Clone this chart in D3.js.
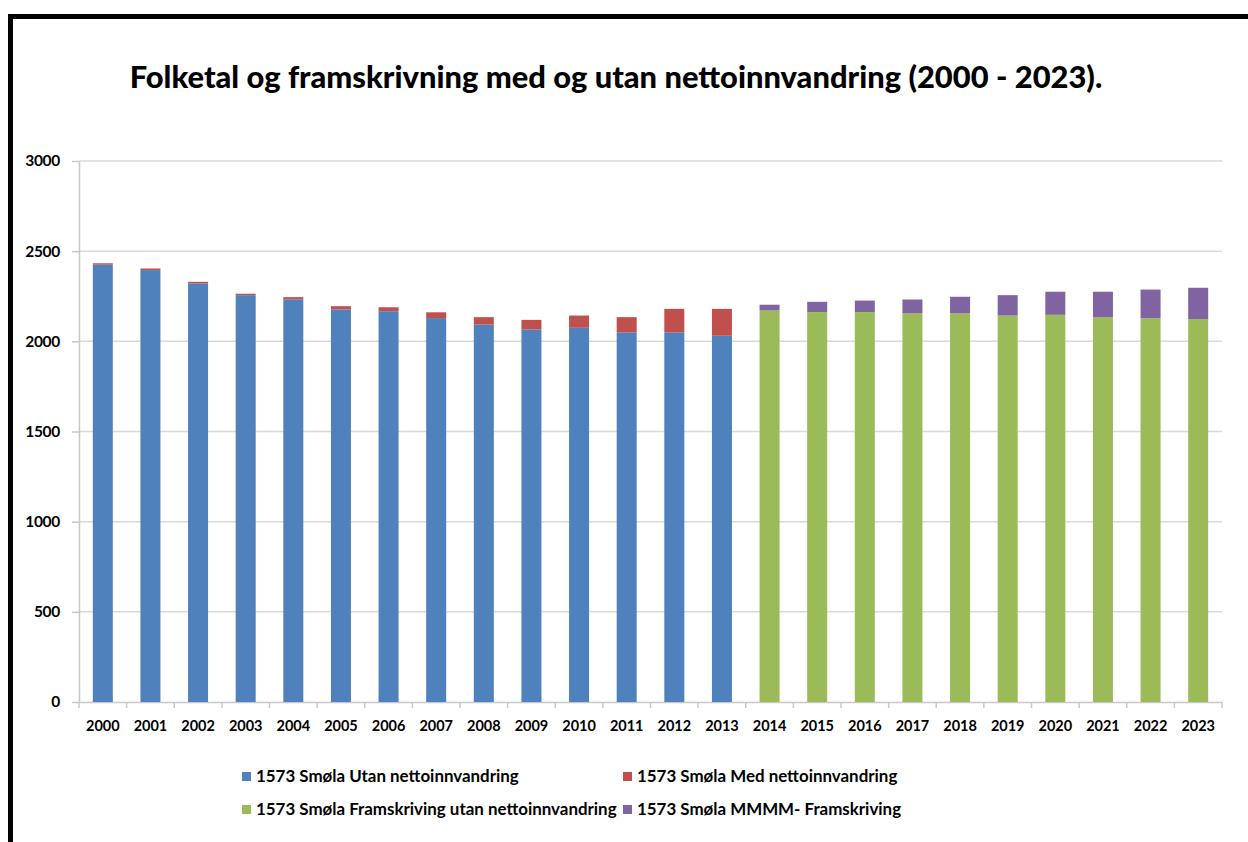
<!DOCTYPE html>
<html>
<head>
<meta charset="utf-8">
<script src="https://cdn.jsdelivr.net/npm/d3@7"></script>
<style>
  body { margin: 0; background: #fff; }
  svg { display: block; }
</style>
</head>
<body>
<div id="chart"></div>
<script>
const years = d3.range(2000, 2024).map(String)
// 2000-2013: registered population, split into "utan" and the extra from net immigration
const utan = [2425, 2395, 2321, 2256, 2233, 2177, 2167, 2129, 2093, 2066, 2075, 2050, 2050, 2031,
              0, 0, 0, 0, 0, 0, 0, 0, 0, 0]
const med = [8, 9, 9, 8, 12, 18, 22, 32, 41, 53, 68, 84, 130, 149,
             0, 0, 0, 0, 0, 0, 0, 0, 0, 0]
// 2014-2023: projections
const framUtan = [0, 0, 0, 0, 0, 0, 0, 0, 0, 0, 0, 0, 0, 0,
                  2171, 2162, 2162, 2156, 2156, 2143, 2147, 2134, 2128, 2123]
const mmmm = [0, 0, 0, 0, 0, 0, 0, 0, 0, 0, 0, 0, 0, 0,
              32, 57, 64, 76, 91, 113, 128, 141, 159, 174]
const yTicks = [0, 500, 1000, 1500, 2000, 2500, 3000]

const seriesNames = ["1573 Smøla Utan nettoinnvandring", "1573 Smøla Med nettoinnvandring",
                     "1573 Smøla Framskriving utan nettoinnvandring", "1573 Smøla MMMM- Framskriving"]
const colors = ["#4F81BD", "#C0504D", "#9BBB59", "#8064A2"]

const width = 1248, height = 842
const margin = {top: 161, right: 26, bottom: 140, left: 79}

const rows = years.map((y, i) => ({year: y, a: utan[i], b: med[i], c: framUtan[i], d: mmmm[i]}))
const stack = d3.stack().keys(["a", "b", "c", "d"])
const series = stack(rows)

const x = d3.scaleBand()
    .domain(years)
    .range([margin.left, width - margin.right])
    .paddingInner(0.58)
    .paddingOuter(0.29)
const y = d3.scaleLinear()
    .domain([0, 3000])
    .range([height - margin.bottom, margin.top])

const svg = d3.select("#chart").append("svg")
    .attr("width", width)
    .attr("height", height)
    .style("font-family", "Lato, 'Open Sans', sans-serif")

// frame (only left and top edges visible in the picture)
svg.append("rect").attr("x", 8).attr("y", 14).attr("width", 5).attr("height", height - 14).attr("fill", "#000")
svg.append("rect").attr("x", 8).attr("y", 14).attr("width", width - 8).attr("height", 5).attr("fill", "#000")

const title = svg.append("text")
    .attr("x", 616)
    .attr("y", 88)
    .attr("text-anchor", "middle")
    .style("font-weight", "900")
    .style("font-size", "26px")
    .attr("fill", "#000")
    .text("Folketal og framskrivning med og utan nettoinnvandring (2000 - 2023).")
// fit title width to the original
const tw = title.node().getComputedTextLength()
title.style("font-size", (26 * 973 / tw) + "px")

// gridlines
svg.append("g")
    .selectAll("line")
    .data(yTicks.slice(1))
    .join("line")
      .attr("x1", margin.left)
      .attr("x2", width - margin.right)
      .attr("y1", d => y(d))
      .attr("y2", d => y(d))
      .attr("stroke", "#d9d9d9")
      .attr("stroke-width", 1.5)

// y axis
const yAxis = svg.append("g")
    .attr("transform", `translate(${margin.left},0)`)
    .call(d3.axisLeft(y).tickValues(yTicks).tickFormat(d3.format("d")).tickSize(7).tickPadding(12).tickSizeOuter(0))
yAxis.select(".domain").attr("stroke", "#c8c8c8").attr("stroke-width", 1.5)
yAxis.selectAll(".tick line").attr("stroke", "#c8c8c8").attr("stroke-width", 1.5)
yAxis.selectAll("text")
    .attr("fill", "#000")
    .style("font-size", "15.5px")
    .style("font-weight", "bold")
    .style("font-family", "Lato, sans-serif")
    .style("letter-spacing", "-0.3px")

// x axis, ticks between categories
const xAxis = svg.append("g")
    .attr("transform", `translate(0,${y(0)})`)
    .call(d3.axisBottom(x).tickSize(0).tickPadding(19).tickSizeOuter(0))
xAxis.select(".domain").attr("stroke", "#c8c8c8").attr("stroke-width", 1.5)
xAxis.selectAll("text")
    .attr("fill", "#000")
    .style("font-size", "14.5px")
    .style("font-weight", "bold")
    .style("font-family", "Lato, sans-serif")
xAxis.append("g")
    .selectAll("line")
    .data(years)
    .join("line")
      .attr("x1", d => x(d) - (x.step() - x.bandwidth()) / 2)
      .attr("x2", d => x(d) - (x.step() - x.bandwidth()) / 2)
      .attr("y1", 0)
      .attr("y2", 6)
      .attr("stroke", "#c8c8c8")
      .attr("stroke-width", 1.5)
xAxis.append("line")
    .attr("x1", width - margin.right).attr("x2", width - margin.right)
    .attr("y1", 0).attr("y2", 6)
    .attr("stroke", "#c8c8c8").attr("stroke-width", 1.5)

// bars
svg.append("g")
    .selectAll("g")
    .data(series)
    .join("g")
      .attr("fill", (d, i) => colors[i])
    .selectAll("rect")
    .data(d => d.filter(p => p[1] - p[0] > 0))
    .join("rect")
      .attr("x", d => x(d.data.year))
      .attr("y", d => y(d[1]))
      .attr("width", x.bandwidth())
      .attr("height", d => y(d[0]) - y(d[1]))

// legend
const legendPos = [[242, 777], [623, 777], [242, 810], [623, 810]]
const legend = svg.append("g")
    .selectAll("g")
    .data(seriesNames)
    .join("g")
      .attr("transform", (d, i) => `translate(${legendPos[i][0]},${legendPos[i][1]})`)
legend.append("rect")
    .attr("x", 0).attr("y", -5)
    .attr("width", 9).attr("height", 9)
    .attr("fill", (d, i) => colors[i])
const legendText = legend.append("text")
    .attr("x", 14)
    .attr("y", 5)
    .attr("fill", "#000")
    .style("font-size", "15px")
    .style("font-weight", "bold")
    .text(d => d)
// first label spans about 263px in the original
const lw = legendText.node().getComputedTextLength()
legendText.style("font-size", (15 * 263 / lw) + "px")
</script>
</body>
</html>
